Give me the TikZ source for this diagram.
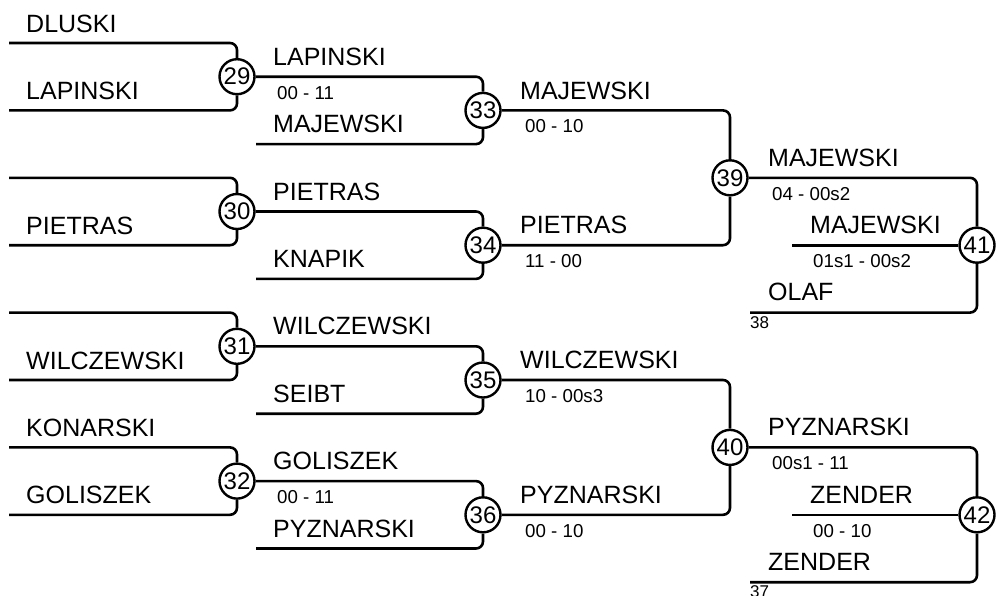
\documentclass[tikz,border=0pt]{standalone}
\usepackage{fontspec}
\setmainfont{Liberation Sans}
\begin{document}
\begin{tikzpicture}[x=1pt,y=-1pt,
  conn/.style={line width=2.6pt,rounded corners=7pt},
  mnode/.style={circle,draw,line width=2.4pt,fill=white,minimum size=35pt,inner sep=0pt,font=\fontsize{24}{24}\selectfont},
  pname/.style={anchor=base west,inner sep=0pt,font=\fontsize{25}{25}\selectfont},
  score/.style={anchor=base west,inner sep=0pt,font=\fontsize{18.7}{18.7}\selectfont},
  small/.style={anchor=base west,inner sep=0pt,font=\fontsize{17}{17}\selectfont}]
\useasboundingbox (0,0) rectangle (1000,595);
% match nodes
\node[mnode] (m29) at (237,76.7) {29};
\node[mnode] (m30) at (237,211.5) {30};
\node[mnode] (m31) at (237,346.3) {31};
\node[mnode] (m32) at (237,481.1) {32};
\node[mnode] (m33) at (483,110.4) {33};
\node[mnode] (m34) at (483,245.2) {34};
\node[mnode] (m35) at (483,380) {35};
\node[mnode] (m36) at (483,514.8) {36};
\node[mnode] (m39) at (730,177.8) {39};
\node[mnode] (m40) at (730,447.4) {40};
\node[mnode] (m41) at (977,245.2) {41};
\node[mnode] (m42) at (977,514.8) {42};
% free ends
\coordinate (a29) at (9,43);
\coordinate (b29) at (9,110.4);
\coordinate (a30) at (9,177.8);
\coordinate (b30) at (9,245.2);
\coordinate (a31) at (9,312.6);
\coordinate (b31) at (9,380);
\coordinate (a32) at (9,447.4);
\coordinate (b32) at (9,514.8);
\coordinate (b33) at (256,144.1);
\coordinate (b34) at (256,278.9);
\coordinate (b35) at (256,413.7);
\coordinate (b36) at (256,548.5);
\coordinate (c41) at (792,245.2);
\coordinate (d41) at (750,312.6);
\coordinate (c42) at (792,514.8);
\coordinate (d42) at (750,582.2);
% connectors
\draw[conn] (a29) -| (m29);
\draw[conn] (b29) -| (m29);
\draw[conn] (a30) -| (m30);
\draw[conn] (b30) -| (m30);
\draw[conn] (a31) -| (m31);
\draw[conn] (b31) -| (m31);
\draw[conn] (a32) -| (m32);
\draw[conn] (b32) -| (m32);
\draw[conn] (m29) -| (m33);
\draw[conn] (b33) -| (m33);
\draw[conn] (m30) -| (m34);
\draw[conn] (b34) -| (m34);
\draw[conn] (m31) -| (m35);
\draw[conn] (b35) -| (m35);
\draw[conn] (m32) -| (m36);
\draw[conn] (b36) -| (m36);
\draw[conn] (m33) -| (m39);
\draw[conn] (m34) -| (m39);
\draw[conn] (m35) -| (m40);
\draw[conn] (m36) -| (m40);
\draw[conn] (m39) -| (m41);
\draw[conn] (c41) -- (m41);
\draw[conn] (d41) -| (m41);
\draw[conn] (m40) -| (m42);
\draw[conn] (c42) -- (m42);
\draw[conn] (d42) -| (m42);
% round 1 names
\node[pname] (n1) at (26,32) {DLUSKI};
\node[pname] (n2) at (26,99) {LAPINSKI};
\node[pname] (n3) at (26,234) {PIETRAS};
\node[pname] (n4) at (26,369) {WILCZEWSKI};
\node[pname] (n5) at (26,436) {KONARSKI};
\node[pname] (n6) at (26,503) {GOLISZEK};
% round 2 names
\node[pname] (r1) at (273,65) {LAPINSKI};
\node[pname] (r2) at (273,132.5) {MAJEWSKI};
\node[pname] (r3) at (273,200) {PIETRAS};
\node[pname] (r4) at (273,267) {KNAPIK};
\node[pname] (r5) at (273,334.5) {WILCZEWSKI};
\node[pname] (r6) at (273,402) {SEIBT};
\node[pname] (r7) at (273,469.5) {GOLISZEK};
\node[pname] (r8) at (273,537) {PYZNARSKI};
% round 3 names
\node[pname] (q1) at (520,99) {MAJEWSKI};
\node[pname] (q2) at (520,233.5) {PIETRAS};
\node[pname] (q3) at (520,368.5) {WILCZEWSKI};
\node[pname] (q4) at (520,503) {PYZNARSKI};
% round 4 names
\node[pname] (s1) at (768,166) {MAJEWSKI};
\node[pname] (s2) at (810,233) {MAJEWSKI};
\node[pname] (s3) at (768,300.5) {OLAF};
\node[pname] (s4) at (768,435.5) {PYZNARSKI};
\node[pname] (s5) at (810,503) {ZENDER};
\node[pname] (s6) at (768,570.5) {ZENDER};
% scores
\node[score] (k1) at (277,99) {00 - 11};
\node[score] (k2) at (277,503.3) {00 - 11};
\node[score] (k3) at (525,132.5) {00 - 10};
\node[score] (k4) at (525,267.3) {11 - 00};
\node[score] (k5) at (525,402) {10 - 00s3};
\node[score] (k6) at (525,537) {00 - 10};
\node[score] (k7) at (772,200) {04 - 00s2};
\node[score] (k8) at (813,267.3) {01s1 - 00s2};
\node[score] (k9) at (772,469.5) {00s1 - 11};
\node[score] (k10) at (813,537) {00 - 10};
% seeds
\node[small] (t1) at (750,328) {38};
\node[small] (t2) at (750,597.5) {37};
\end{tikzpicture}
\end{document}
